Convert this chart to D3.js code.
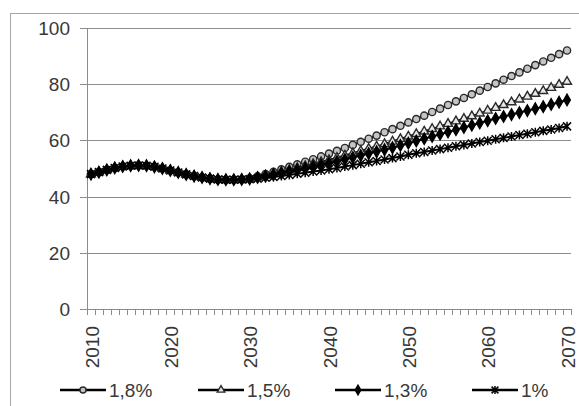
<!DOCTYPE html>
<html><head><meta charset="utf-8">
<script src="https://cdn.jsdelivr.net/npm/d3@7"></script>
<style>
html,body{margin:0;padding:0;background:#fff;}
svg{display:block;}
text{font-family:"Liberation Sans",Arial,sans-serif;fill:#383838;}
</style></head>
<body>
<svg id="chart" width="579" height="406"></svg>
<script>
const years = d3.range(2010, 2071);
const xTickLabels = ["2010","2020","2030","2040","2050","2060","2070"];
const yTicks = [0, 20, 40, 60, 80, 100];
const seriesNames = ["1,8%", "1,5%", "1,3%", "1%"];

const s18 = [48.0,48.7,49.5,50.2,50.7,51.0,51.1,51.0,50.6,50.0,49.3,48.6,47.9,47.3,46.8,46.4,46.1,46.0,46.0,46.1,46.5,
  47.2,48.0,48.8,49.7,50.6,51.5,52.4,53.3,54.3,55.3,56.3,57.3,58.4,59.5,60.6,61.7,62.9,64.0,65.2,66.4,
  67.6,68.8,70.1,71.3,72.6,73.9,75.1,76.4,77.7,79.0,80.3,81.6,82.9,84.2,85.5,86.8,88.1,89.4,90.7,92.0];
const s15 = [48.0,48.7,49.5,50.2,50.7,51.0,51.1,51.0,50.6,50.0,49.3,48.6,47.9,47.3,46.8,46.4,46.1,46.0,46.0,46.1,46.4,
  46.9,47.5,48.1,48.8,49.5,50.2,50.9,51.6,52.3,53.0,53.8,54.6,55.4,56.2,57.0,57.8,58.7,59.6,60.5,61.4,
  62.3,63.2,64.1,65.0,65.9,66.8,67.7,68.6,69.6,70.6,71.6,72.6,73.6,74.6,75.6,76.6,77.6,78.7,79.8,80.9];
const s13 = [48.0,48.7,49.5,50.2,50.7,51.0,51.1,51.0,50.6,50.0,49.3,48.6,47.9,47.3,46.8,46.4,46.1,46.0,46.0,46.1,46.3,
  46.8,47.3,47.8,48.3,48.9,49.5,50.1,50.7,51.3,51.9,52.5,53.2,53.9,54.6,55.3,56.0,56.7,57.4,58.2,59.0,
  59.8,60.6,61.4,62.2,63.0,63.8,64.6,65.4,66.2,67.0,67.8,68.5,69.2,69.9,70.6,71.3,72.0,72.8,73.6,74.4];
const s10 = [48.0,48.7,49.5,50.2,50.7,51.0,51.1,51.0,50.6,50.0,49.3,48.6,47.9,47.3,46.8,46.4,46.1,46.0,46.0,46.1,46.2,
  46.4,46.7,47.0,47.3,47.7,48.1,48.5,48.9,49.3,49.7,50.2,50.7,51.2,51.7,52.2,52.7,53.2,53.7,54.3,54.9,
  55.4,55.9,56.4,56.9,57.4,57.9,58.4,58.9,59.4,59.9,60.4,60.9,61.4,61.9,62.4,62.9,63.4,63.9,64.4,65.0];

const svg = d3.select("#chart");
const pLeft = 87, pRight = 571, pTop = 28, pBottom = 309;

// outer frame
svg.append("rect").attr("x",10.5).attr("y",13.5).attr("width",600).attr("height",420)
  .attr("fill","none").attr("stroke","#a6a6a6").attr("stroke-width",1);

const x = d3.scaleBand().domain(years).range([pLeft, pRight]);
const y = d3.scaleLinear().domain([0,100]).range([pBottom, pTop]);

// gridlines + y axis
const yAxis = d3.axisLeft(y).tickValues(yTicks).tickSize(-(pRight-pLeft)).tickSizeOuter(0).tickPadding(17);
const gy = svg.append("g").attr("transform",`translate(${pLeft},0)`).call(yAxis);
gy.select(".domain").attr("stroke","#8c8c8c");
gy.selectAll(".tick line").attr("stroke","#8c8c8c").attr("x1",-7);
gy.selectAll(".tick text").attr("font-size","19px").attr("fill","#383838")
  .attr("font-family","Liberation Sans, Arial, sans-serif").attr("dy","0.35em");
gy.selectAll(".tick").attr("transform", d => `translate(0,${Math.round(y(d))+0.5})`);

// x axis line and tick marks at category boundaries
const bounds = years.map(d => x(d)).concat([pRight]);
svg.append("line").attr("x1",pLeft-7).attr("x2",pRight).attr("y1",pBottom+0.5).attr("y2",pBottom+0.5)
  .attr("stroke","#8c8c8c");
svg.append("g").selectAll("line").data(bounds).join("line")
  .attr("x1", d => Math.round(d)+0.5).attr("x2", d => Math.round(d)+0.5)
  .attr("y1", pBottom).attr("y2", pBottom+6).attr("stroke","#8c8c8c");

// x labels
svg.append("g").selectAll("text").data(xTickLabels).join("text")
  .attr("transform", d => `translate(${x(+d)+x.bandwidth()/2+1},326) rotate(-90)`)
  .attr("text-anchor","end").attr("dy","0.35em").attr("font-size","19px").text(d => d);

// series
const allSeries = [s18, s15, s13, s10];
const markers = ["circle","triangle","diamond","star"];
const line = d3.line().x((d,i) => x(years[i]) + x.bandwidth()/2).y(d => y(d));

function drawMarker(g, type, cx, cy, sc) {
  sc = sc || 1;
  if (type === "circle") {
    g.append("circle").attr("cx",cx).attr("cy",cy).attr("r",3.6*sc)
      .attr("fill","#c4c4c4").attr("stroke","#2a2a2a").attr("stroke-width",1.4);
  } else if (type === "triangle") {
    g.append("path").attr("d", d3.symbol(d3.symbolTriangle, 34*sc*sc)())
      .attr("transform",`translate(${cx},${cy})`).attr("fill","#e8e8e8").attr("stroke","#2a2a2a").attr("stroke-width",1.4);
  } else if (type === "diamond") {
    g.append("path").attr("d", d3.symbol(d3.symbolDiamond, 40*sc*sc)())
      .attr("transform",`translate(${cx},${cy})`).attr("fill","#000").attr("stroke","#000").attr("stroke-width",1.2);
  } else {
    const r = 4*sc;
    g.append("path").attr("d",`M${cx-r},${cy-r}L${cx+r},${cy+r}M${cx-r},${cy+r}L${cx+r},${cy-r}M${cx},${cy-r-0.5}L${cx},${cy+r+0.5}`)
      .attr("stroke","#000").attr("stroke-width",1.5).attr("fill","none");
  }
}

allSeries.forEach((s, k) => {
  const g = svg.append("g");
  g.append("path").datum(s).attr("d", line).attr("fill","none").attr("stroke","#000").attr("stroke-width",2);
  s.forEach((v,i) => drawMarker(g, markers[k], x(years[i]) + x.bandwidth()/2, y(v)));
});

// legend
const legendX = [60, 198, 335, 472];
const lg = svg.append("g");
seriesNames.forEach((n,k) => {
  const lx = legendX[k], ly = 390;
  lg.append("line").attr("x1",lx).attr("x2",lx+46).attr("y1",ly).attr("y2",ly)
    .attr("stroke","#000").attr("stroke-width",2.5);
  drawMarker(lg, markers[k], lx+23, ly, 0.85);
  lg.append("text").attr("x",lx+49).attr("y",ly).attr("dy","0.35em").attr("font-size","19px").text(n);
});
</script>
</body></html>
